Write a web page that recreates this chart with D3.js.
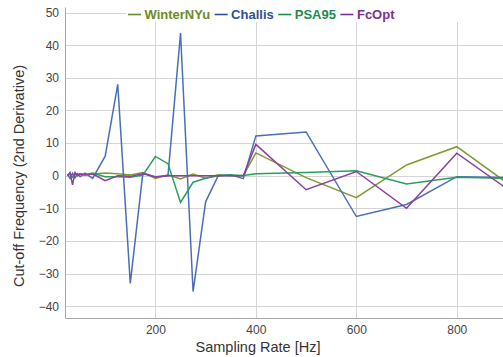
<!DOCTYPE html>
<html><head><meta charset="utf-8">
<script src="https://cdn.jsdelivr.net/npm/d3@7"></script>
<style>
html,body{margin:0;padding:0;background:#fff;overflow:hidden;}
svg{display:block;font-family:"Liberation Sans",Arial,sans-serif;}
</style></head>
<body>
<svg id="chart" width="503" height="357"></svg>
<script>
const samplingRates = [25,30,35,40,45,50,60,75,100,125,150,175,200,225,250,275,300,325,350,375,400,500,600,700,800,900];
const winterNYu = [0.3,0.5,-0.3,0.6,0.2,0.5,0.3,0.5,0.8,0.6,0.2,1.0,-0.8,0.3,-1.0,0.5,-0.8,0.3,0,0,7.0,-0.6,-6.7,3.3,8.9,-2.2];
const challis   = [0.5,-0.8,0.8,-0.6,0.6,-0.3,0.8,-0.8,6.0,28.0,-33.0,0.8,-0.4,0,43.7,-35.5,-8.0,0,0.3,-0.9,12.2,13.4,-12.5,-8.8,-0.3,-0.6];
const psa95     = [0,0.5,-0.5,0.5,0.3,0.6,0.2,0.8,-0.3,-0.3,-0.5,0.2,5.9,3.7,-8.2,-2.0,-0.8,0,0.2,0.1,0.6,1.0,1.5,-2.5,-0.5,-0.8];
const fcOpt     = [0,1.0,-2.8,1.0,0,0.5,0.3,0.6,-1.5,0,-0.2,0.6,-0.3,0,0,0,0,0,0,0,9.6,-4.3,1.3,-10.0,6.9,-4.0];
const seriesNames = ["WinterNYu","Challis","PSA95","FcOpt"];
const seriesColors = ["#7f9a32","#4a6fb5","#26a05a","#8c3f9f"];
const legendColors = ["#6f8a26","#2f4f95","#1c8c48","#7a3191"];
const xTicks = [200,400,600,800];
const yTicks = [-40,-30,-20,-10,0,10,20,30,40,50];

const seriesValues = [winterNYu, challis, psa95, fcOpt];

const svg = d3.select("#chart");
const x = d3.scaleLinear().domain([20, 900]).range([65, 507]);
const y = d3.scaleLinear().domain([-43.6, 51.7]).range([318, 7]);

const font = '"Liberation Sans",Arial,sans-serif';

// gridlines
svg.append("g").selectAll("line").data(yTicks).join("line")
  .attr("x1", 65).attr("x2", 503)
  .attr("y1", d => Math.round(y(d)) + 0.5).attr("y2", d => Math.round(y(d)) + 0.5)
  .attr("stroke", "#d4d4d4").attr("stroke-width", 1);
svg.append("g").selectAll("line").data(xTicks).join("line")
  .attr("x1", d => Math.round(x(d)) + 0.5).attr("x2", d => Math.round(x(d)) + 0.5)
  .attr("y1", 7).attr("y2", 318)
  .attr("stroke", "#d4d4d4").attr("stroke-width", 1);

// axes
const xAxis = d3.axisBottom(x).tickValues(xTicks).tickSize(0).tickPadding(7);
const gx = svg.append("g").attr("transform", "translate(0,318)").call(xAxis);
gx.select(".domain").attr("stroke", "#a8a8a8");
gx.selectAll("text").attr("font-size", 12).attr("fill", "#444").attr("font-family", font);

const yAxis = d3.axisLeft(y).tickValues(yTicks).tickSize(0).tickPadding(6);
const gy = svg.append("g").attr("transform", "translate(65,0)").call(yAxis);
gy.select(".domain").attr("stroke", "#a8a8a8");
gy.selectAll("text").attr("font-size", 12).attr("fill", "#444").attr("font-family", font);

// lines
const line = d3.line().x((d, i) => x(samplingRates[i])).y(d => y(d));
const plot = svg.append("g");
seriesValues.forEach((vals, k) => {
  plot.append("path").datum(vals)
    .attr("d", line)
    .attr("fill", "none")
    .attr("stroke", seriesColors[k])
    .attr("stroke-width", 1.5)
    .attr("stroke-linejoin", "miter");
});

// legend background
svg.append("rect").attr("x", 126).attr("y", 0).attr("width", 380).attr("height", 22).attr("fill", "#fff");

// legend
const lg = svg.append("g");
let cx = 128;
seriesNames.forEach((name, k) => {
  lg.append("line").attr("x1", cx).attr("x2", cx + 13)
    .attr("y1", 14.5).attr("y2", 14.5)
    .attr("stroke", legendColors[k]).attr("stroke-width", 1.6);
  const t = lg.append("text").attr("x", cx + 16.5).attr("y", 19)
    .attr("font-size", 13).attr("font-weight", "bold")
    .attr("fill", legendColors[k]).attr("font-family", font)
    .text(name);
  cx = cx + 16.5 + t.node().getComputedTextLength() + 4.5;
});

// axis titles
svg.append("text").attr("x", 258).attr("y", 352)
  .attr("text-anchor", "middle").attr("font-size", 14.5).attr("fill", "#333")
  .attr("font-family", font).text("Sampling Rate [Hz]");
svg.append("text").attr("transform", "translate(24,176) rotate(-90)")
  .attr("text-anchor", "middle").attr("font-size", 14.5).attr("fill", "#333")
  .attr("font-family", font).text("Cut-off Frequency (2nd Derivative)");
</script>
</body></html>
